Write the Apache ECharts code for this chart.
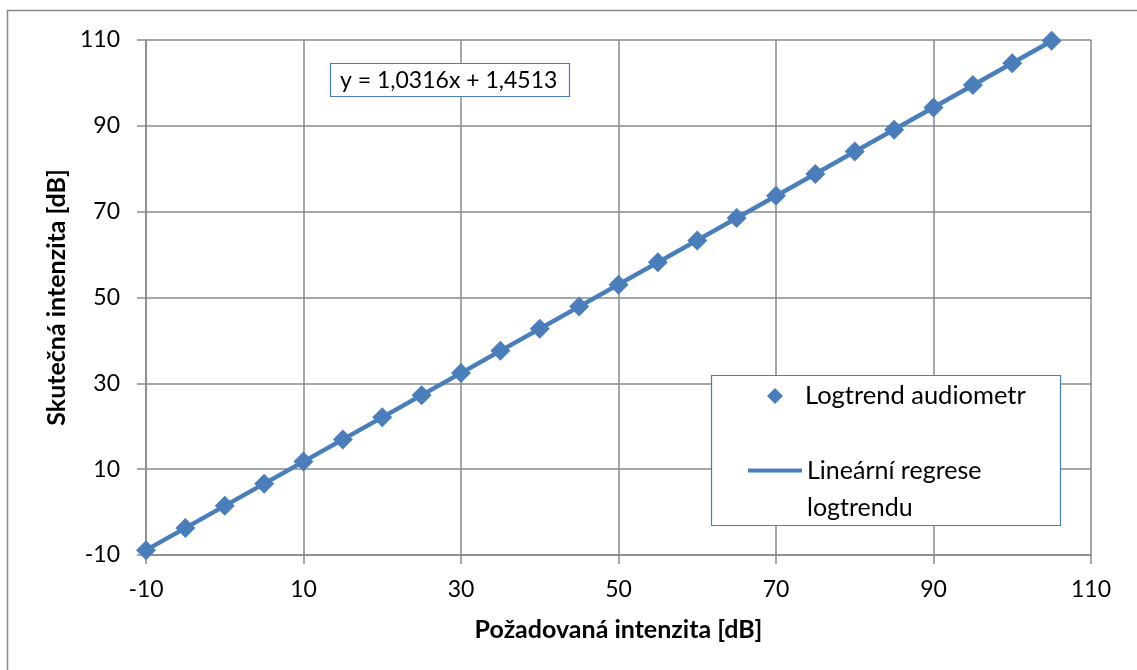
<!DOCTYPE html>
<html>
<head>
<meta charset="utf-8">
<title>Logtrend audiometr</title>
<script src="https://cdn.jsdelivr.net/npm/echarts@6/dist/echarts.min.js"></script>
<style>
  html, body { margin: 0; padding: 0; background: #fff; }
  #chart { width: 1137px; height: 670px; }
</style>
</head>
<body>
<div id="chart"></div>
<script>
// Requested intensity (dB) for each measured step
const requested = [-10, -5, 0, 5, 10, 15, 20, 25, 30, 35, 40, 45, 50, 55, 60, 65, 70, 75, 80, 85, 90, 95, 100, 105];
// Actual intensity (dB) measured by the audiometer
const actual = [-8.9, -3.7, 1.5, 6.6, 11.8, 16.9, 22.1, 27.2, 32.4, 37.6, 42.7, 47.9, 53.0, 58.2, 63.3, 68.5, 73.7, 78.8, 84.0, 89.1, 94.3, 99.5, 104.6, 109.8];
// Linear regression of the measured points
const slope = 1.0316;
const intercept = 1.4513;
// Axis ticks
const axisMin = -10, axisMax = 110, axisStep = 20;

const seriesPoints = 'Logtrend audiometr';
const seriesTrend = 'Lineární regrese logtrendu';

const fmt = v => v.toFixed(4).replace('.', ',');
const equation = 'y = ' + fmt(slope) + 'x + ' + fmt(intercept);

const xFirst = requested[0], xLast = requested[requested.length - 1];
const trend = [[xFirst, slope * xFirst + intercept], [xLast, slope * xLast + intercept]];
const points = requested.map((x, i) => [x, actual[i]]);

const FONT = 'Lato, "Noto Sans", sans-serif';
const BLUE = '#4a7ebb';
const GRID = '#8a8a8a';

const chart = echarts.init(document.getElementById('chart'), null, { renderer: 'canvas' });

const axisCommon = {
  type: 'value',
  min: axisMin,
  max: axisMax,
  interval: axisStep,
  axisLine: { show: true, onZero: false, lineStyle: { color: GRID, width: 1.5 } },
  axisTick: { show: true, length: 9, lineStyle: { color: GRID, width: 1.5 } },
  splitLine: { show: true, lineStyle: { color: GRID, width: 1.5 } },
  axisLabel: { color: '#000', fontFamily: FONT, fontSize: 23 },
  nameTextStyle: { color: '#000', fontFamily: FONT, fontSize: 25, fontWeight: 'bold' },
  nameLocation: 'middle'
};

chart.setOption({
  animation: false,
  backgroundColor: '#fff',
  grid: { left: 146, right: 46, top: 40, bottom: 115, containLabel: false },
  xAxis: Object.assign({}, axisCommon, {
    name: 'Požadovaná intenzita [dB]',
    nameGap: 62,
    axisLabel: Object.assign({}, axisCommon.axisLabel, { margin: 23 })
  }),
  yAxis: Object.assign({}, axisCommon, {
    name: 'Skutečná intenzita [dB]',
    nameGap: 73,
    axisLabel: Object.assign({}, axisCommon.axisLabel, { margin: 26 })
  }),
  title: {
    text: equation,
    left: 330,
    top: 63,
    padding: [6, 12, 5, 10],
    borderColor: BLUE,
    borderWidth: 1.2,
    backgroundColor: '#fff',
    textStyle: { color: '#000', fontFamily: FONT, fontSize: 23, fontWeight: 'normal' }
  },
  legend: [
    {
      data: [{ name: seriesPoints, icon: 'path://M0,-1L1,0L0,1L-1,0Z' }],
      left: 762,
      top: 378,
      itemWidth: 16,
      itemHeight: 16,
      textStyle: { color: '#000', fontFamily: FONT, fontSize: 25.5, padding: [0, 0, 0, 17] },
      selectedMode: false
    },
    {
      data: [{ name: seriesTrend, icon: 'path://M0,0H54V4H0Z' }],
      left: 743,
      top: 410,
      itemWidth: 54,
      itemHeight: 40,
      formatter: () => ' \nLineární regrese\nlogtrendu',
      textStyle: { color: '#000', fontFamily: FONT, fontSize: 25, lineHeight: 37 },
      selectedMode: false
    }
  ],
  graphic: [
    {
      type: 'rect', silent: true, z: -10,
      shape: { x: 7.5, y: 10.5, width: 1140, height: 680 },
      style: { fill: 'none', stroke: '#8a8a8a', lineWidth: 1.5 }
    },
    {
      type: 'rect', silent: true, z: 1,
      shape: { x: 711.5, y: 375.5, width: 349, height: 150 },
      style: { fill: '#fff', stroke: BLUE, lineWidth: 1.2 }
    }
  ],
  series: [
    {
      name: seriesTrend,
      type: 'line',
      data: trend,
      showSymbol: false,
      symbol: 'none',
      lineStyle: { color: BLUE, width: 4.5 },
      itemStyle: { color: BLUE },
      z: 2
    },
    {
      name: seriesPoints,
      type: 'scatter',
      data: points,
      symbol: 'diamond',
      symbolSize: 20,
      itemStyle: { color: BLUE, opacity: 1 },
      z: 3
    }
  ]
});
</script>
</body>
</html>
